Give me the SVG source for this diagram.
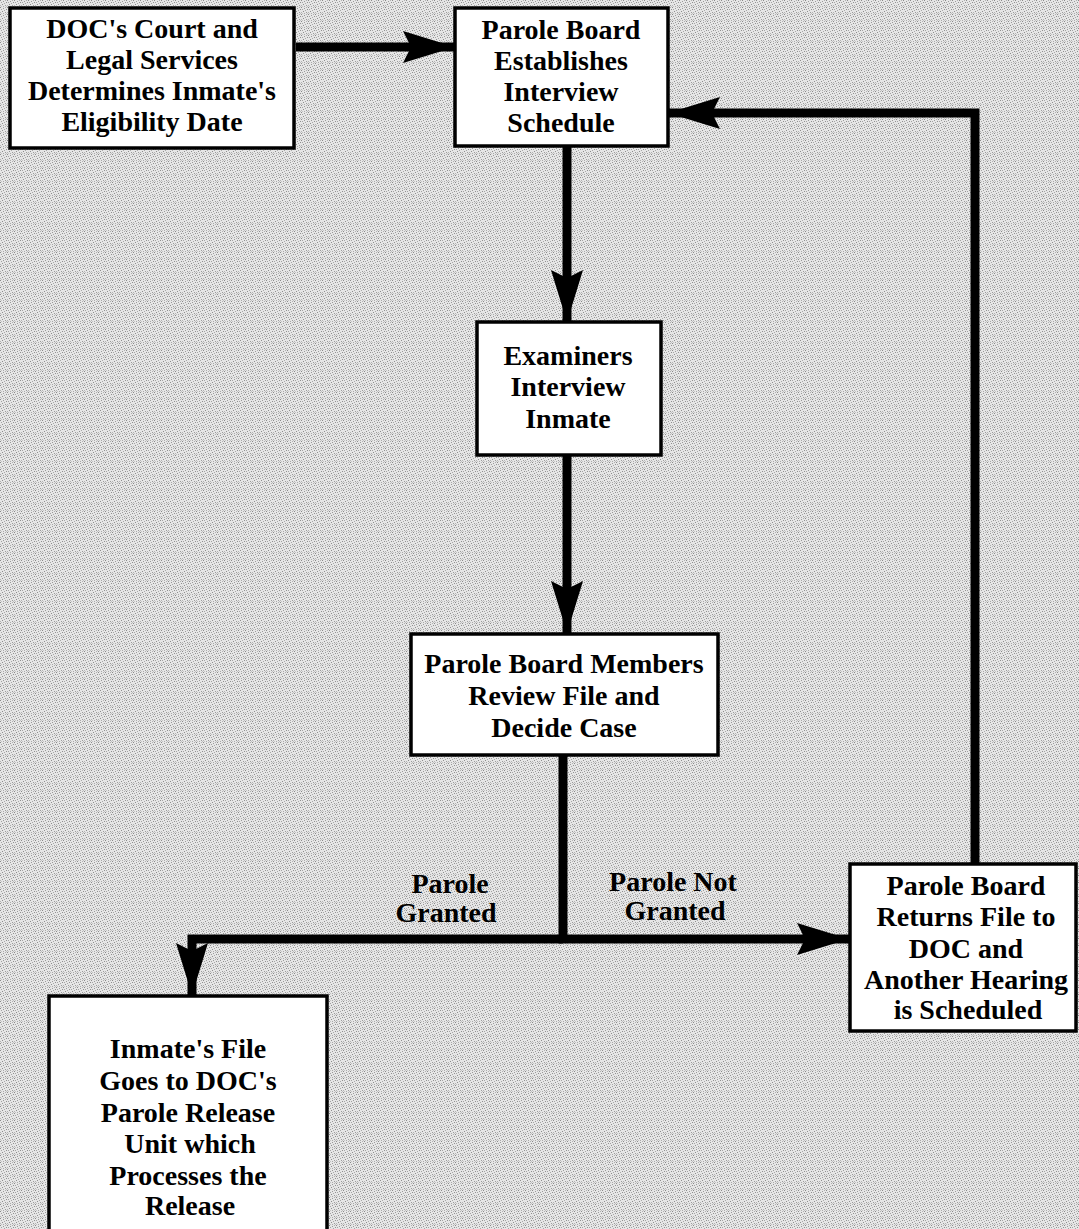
<svg xmlns="http://www.w3.org/2000/svg" width="1079" height="1229" viewBox="0 0 1079 1229">
  <defs>
    <pattern id="stipple" width="7" height="7" patternUnits="userSpaceOnUse">
      <rect width="7" height="7" fill="#e6e6e6"/>
      <rect x="0" y="0" width="1" height="1" fill="#8a8a8a"/>
      <rect x="3" y="1" width="1" height="1" fill="#9a9a9a"/>
      <rect x="5" y="0" width="1" height="1" fill="#b0b0b0"/>
      <rect x="1" y="2" width="1" height="1" fill="#a4a4a4"/>
      <rect x="6" y="2" width="1" height="1" fill="#909090"/>
      <rect x="4" y="3" width="1" height="1" fill="#a8a8a8"/>
      <rect x="2" y="4" width="1" height="1" fill="#8e8e8e"/>
      <rect x="0" y="5" width="1" height="1" fill="#b4b4b4"/>
      <rect x="5" y="5" width="1" height="1" fill="#9c9c9c"/>
      <rect x="3" y="6" width="1" height="1" fill="#aaaaaa"/>
      <rect x="6" y="6" width="1" height="1" fill="#c0c0c0"/>
      <rect x="1" y="6" width="1" height="1" fill="#c4c4c4"/>
    </pattern>
    <marker id="ah" markerUnits="userSpaceOnUse" markerWidth="54" markerHeight="36" refX="52" refY="18" orient="auto">
      <path d="M0,2 L52,18 L0,34 L8,18 Z" fill="#000"/>
    </marker>
  </defs>
  <style>
    .box { fill: #ffffff; stroke: #000; stroke-width: 3.5; }
    .t { font-family: "Liberation Serif", "DejaVu Serif", serif; font-size: 28px; font-weight: bold; fill: #000; text-anchor: middle; }
    .c { fill: none; stroke: #000; stroke-width: 9; stroke-linejoin: miter; }
  </style>
  <rect width="1079" height="1229" fill="url(#stipple)"/>

  <g id="connectors">
    <line class="c" x1="296" y1="47" x2="455" y2="47" marker-end="url(#ah)"/>
    <polyline class="c" points="975,863 975,113 668,113" stroke-width="7" marker-end="url(#ah)"/>
    <line class="c" x1="567" y1="147" x2="567" y2="322" marker-end="url(#ah)"/>
    <line class="c" x1="567" y1="456" x2="567" y2="633" marker-end="url(#ah)"/>
    <line class="c" x1="563" y1="756" x2="563" y2="939" stroke-width="6"/>
    <line class="c" x1="559" y1="939" x2="849" y2="939" marker-end="url(#ah)"/>
    <polyline class="c" points="563,939 192,939 192,995" marker-end="url(#ah)"/>
    <text class="t" x="450" y="893">Parole</text>
    <text class="t" x="446" y="922">Granted</text>
    <text class="t" x="673" y="891">Parole Not</text>
    <text class="t" x="675" y="920">Granted</text>
  </g>

  <g id="n1">
    <rect class="box" x="10" y="8" width="284" height="140"/>
    <text class="t" x="152" y="38">DOC's Court and</text>
    <text class="t" x="152" y="69">Legal Services</text>
    <text class="t" x="152" y="100">Determines Inmate's</text>
    <text class="t" x="152" y="131">Eligibility Date</text>
  </g>

  <g id="n2">
    <rect class="box" x="455" y="8" width="213" height="138"/>
    <text class="t" x="561" y="39">Parole Board</text>
    <text class="t" x="561" y="70">Establishes</text>
    <text class="t" x="561" y="101">Interview</text>
    <text class="t" x="561" y="132">Schedule</text>
  </g>

  <g id="n3">
    <rect class="box" x="477" y="322" width="184" height="133"/>
    <text class="t" x="568" y="365">Examiners</text>
    <text class="t" x="568" y="396">Interview</text>
    <text class="t" x="568" y="428">Inmate</text>
  </g>

  <g id="n4">
    <rect class="box" x="411" y="634" width="307" height="121"/>
    <text class="t" x="564" y="673">Parole Board Members</text>
    <text class="t" x="564" y="705">Review File and</text>
    <text class="t" x="564" y="737">Decide Case</text>
  </g>

  <g id="n5">
    <rect class="box" x="850" y="864" width="226" height="167"/>
    <text class="t" x="966" y="895">Parole Board</text>
    <text class="t" x="966" y="926">Returns File to</text>
    <text class="t" x="966" y="958">DOC and</text>
    <text class="t" x="966" y="989">Another Hearing</text>
    <text class="t" x="968" y="1019">is Scheduled</text>
  </g>

  <g id="n6">
    <rect class="box" x="49" y="996" width="278" height="250"/>
    <text class="t" x="188" y="1058">Inmate's File</text>
    <text class="t" x="188" y="1090">Goes to DOC's</text>
    <text class="t" x="188" y="1122">Parole Release</text>
    <text class="t" x="190" y="1153">Unit which</text>
    <text class="t" x="188" y="1185">Processes the</text>
    <text class="t" x="190" y="1215">Release</text>
  </g>
</svg>
